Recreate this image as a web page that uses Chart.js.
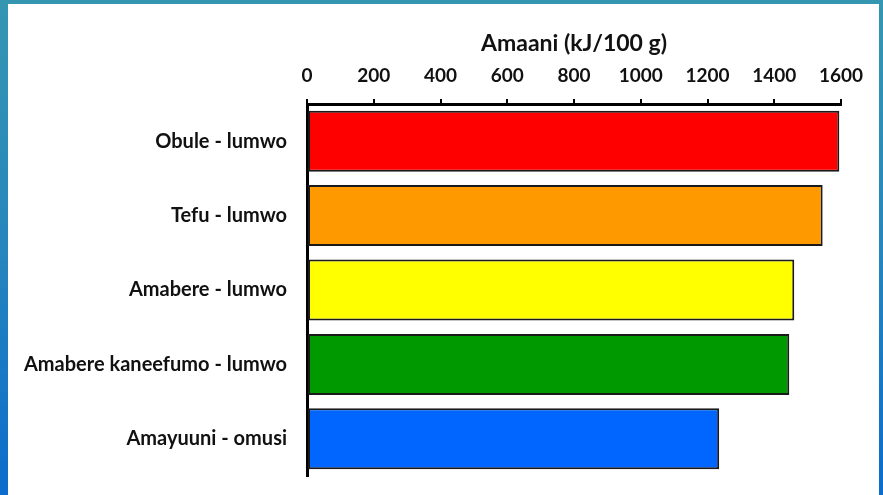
<!DOCTYPE html>
<html>
<head>
<meta charset="utf-8">
<script src="https://cdn.jsdelivr.net/npm/chart.js@4/dist/chart.umd.min.js"></script>
<style>
  html, body { margin: 0; padding: 0; }
  body {
    width: 883px; height: 495px; overflow: hidden;
    background: linear-gradient(to bottom, #3596b2 0%, #2686bd 50%, #0b6ccc 100%);
    position: relative;
  }
  #panel {
    position: absolute; left: 8px; top: 4px; width: 871px; height: 491px;
    background: #fff;
  }
</style>
</head>
<body>
<div id="panel"><canvas id="myChart"></canvas></div>
<script>
let categories = ['Obule - lumwo', 'Tefu - lumwo', 'Amabere - lumwo', 'Amabere kaneefumo - lumwo', 'Amayuuni - omusi']
let energy = [1595, 1545, 1460, 1445, 1235]
let barColors = ['#ff0000', '#ff9900', '#ffff00', '#009900', '#0066ff']
let axisTitle = 'Amaani (kJ/100 g)'
let tickMax = 1600
let tickStep = 200

let ctx = document.querySelector('#myChart')

let graphData = {
    type: 'bar',
    data: {
        labels: categories,
        datasets: [{
            data: energy,
            backgroundColor: barColors,
            borderColor: '#1a1a1a',
            borderWidth: 2,
            borderSkipped: false,
            categoryPercentage: 1,
            barPercentage: 0.82
        }]
    },
    options: {
        indexAxis: 'y',
        responsive: true,
        maintainAspectRatio: false,
        animation: false,
        layout: { padding: { left: 0, right: 38, top: 0, bottom: 19 } },
        plugins: { legend: { display: false }, tooltip: { enabled: false } },
        scales: {
            x: {
                position: 'top',
                min: 0,
                max: tickMax,
                ticks: {
                    stepSize: tickStep,
                    color: '#111',
                    padding: 12,
                    font: { family: 'Lato', weight: 'bold', size: 19 },
                    callback: function(v) { return String(v) }
                },
                grid: {
                    drawOnChartArea: false,
                    drawTicks: true,
                    tickLength: 5,
                    color: '#000',
                    lineWidth: 2
                },
                border: { display: true, color: '#000', width: 3 },
                title: {
                    display: true,
                    text: axisTitle,
                    color: '#111',
                    padding: { top: 26, bottom: 0 },
                    font: { family: 'Lato', weight: 'bold', size: 23 }
                },
                afterFit: function(scale) { scale.height = 100 }
            },
            y: {
                ticks: {
                    color: '#111',
                    padding: 20,
                    font: { family: 'Lato', weight: 'bold', size: 20 }
                },
                grid: { display: false, drawTicks: false },
                border: { display: true, color: '#000', width: 3 },
                afterFit: function(scale) {
                    scale.width = 299
                    scale.paddingTop = 0
                    scale.paddingBottom = 0
                }
            }
        }
    }
}

let myChart = new Chart(ctx, graphData)
</script>
</body>
</html>
